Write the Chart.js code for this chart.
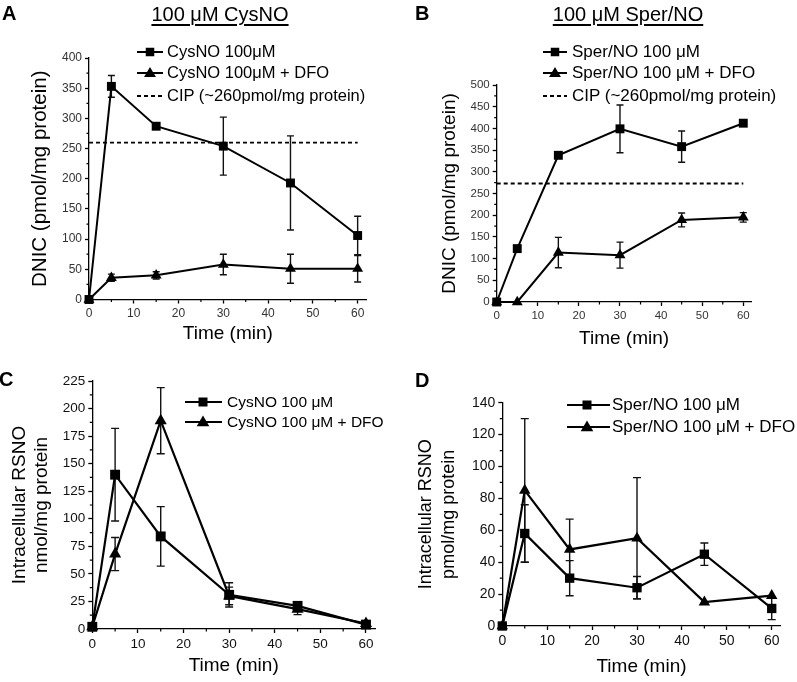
<!DOCTYPE html>
<html>
<head>
<meta charset="utf-8">
<script src="https://cdn.jsdelivr.net/npm/chart.js@4.4.1/dist/chart.umd.min.js"></script>
<style>
    body { margin: 0; background: #fff; }
    #fig {
        position: relative; width: 797px; height: 682px; overflow: hidden;
        font-family: "Liberation Sans", Arial, sans-serif; color: #000;
    }
    #fig canvas { position: absolute; left: 0; top: 0; }
    .lab { position: absolute; font-weight: bold; font-size: 20px; line-height: 1.2; z-index: 2; }
    .ttl {
        position: absolute; font-size: 20px; line-height: 1.2; white-space: nowrap;
        text-decoration: underline; text-decoration-thickness: 1.5px; text-underline-offset: 3px;
        transform: translateX(-50%); z-index: 2;
    }
    .legtxt { position: absolute; white-space: nowrap; line-height: 1.2; z-index: 2; }
    .legsym { position: absolute; z-index: 2; overflow: visible; }
</style>
</head>
<body>
<div id="fig">
    <canvas id="chartA" width="797" height="682"></canvas>
    <canvas id="chartB" width="797" height="682"></canvas>
    <canvas id="chartC" width="797" height="682"></canvas>
    <canvas id="chartD" width="797" height="682"></canvas>

    <div class="lab" style="left:2px; top:1px;">A</div>
    <div class="lab" style="left:415px; top:1px;">B</div>
    <div class="lab" style="left:-1px; top:367px;">C</div>
    <div class="lab" style="left:415px; top:368px;">D</div>

    <div class="ttl" style="left:220px; top:2px;">100 μM CysNO</div>
    <div class="ttl" style="left:628px; top:2px;">100 μM Sper/NO</div>
</div>

<script>
// sampling times (min), shared by every panel
const times = [0, 5, 15, 30, 45, 60];
const xTicks = [0, 10, 20, 30, 40, 50, 60];

// A: DNIC after 100 uM CysNO
const cysDnic = [0, 353, 287, 254, 193, 106];
const cysDnicErr = [0, 18, 5, 48, 78, 32];
const cysDfoDnic = [0, 36, 40, 58, 51, 51];
const cysDfoDnicErr = [0, 6, 6, 17, 24, 22];
const cipA = 260;

// B: DNIC after 100 uM Sper/NO
const sperDnic = [0, 123, 338, 399, 358, 412];
const sperDnicErr = [0, 0, 0, 55, 36, 5];
const sperDfoDnic = [0, 0, 114, 108, 189, 195];
const sperDfoDnicErr = [0, 0, 35, 30, 16, 11];
const cipB = 273;
const cipSpan = [0, 60];

// C: intracellular RSNO after CysNO
const cysRsno = [2, 140, 84, 31, 21, 4];
const cysRsnoErr = [0, 42, 27, 11, 2, 0];
const cysDfoRsno = [2, 68, 189, 30, 18, 5];
const cysDfoRsnoErr = [0, 15, 30, 8, 5, 0];

// D: intracellular RSNO after Sper/NO
const sperRsno = [0, 58, 30, 24, 45, 11];
const sperRsnoErr = [0, 18, 11, 7, 7, 7];
const sperDfoRsno = [0, 85, 48, 55, 15, 19];
const sperDfoRsnoErr = [0, 45, 19, 38, 0, 0];

const FONT = '"Liberation Sans", Arial, sans-serif';

function pts(ys) {
    return times.map((t, i) => ({ x: t, y: ys[i] }));
}

/**
 * Error bars drawn under the markers, using the chart's own scales
 */
const errorBarPlugin = {
    id: 'errorBars',
    beforeDatasetsDraw(chart, args, opts) {
        const errs = opts.errors || [];
        const ctx = chart.ctx;
        const xs = chart.scales.x, ys = chart.scales.y;
        ctx.save();
        ctx.strokeStyle = opts.color || '#111';
        ctx.lineWidth = opts.width || 1.4;
        errs.forEach((err, di) => {
            if (!err) return;
            chart.data.datasets[di].data.forEach((p, i) => {
                if (!err[i]) return;
                const px = xs.getPixelForValue(p.x);
                const top = ys.getPixelForValue(p.y + err[i]);
                const bot = ys.getPixelForValue(p.y - err[i]);
                const c = opts.cap || 3.5;
                ctx.beginPath();
                ctx.moveTo(px, top); ctx.lineTo(px, bot);
                ctx.moveTo(px - c, top); ctx.lineTo(px + c, top);
                ctx.moveTo(px - c, bot); ctx.lineTo(px + c, bot);
                ctx.stroke();
            });
        });
        ctx.restore();
    }
};

/**
 * Short minor ticks between the labelled ones (Origin style)
 */
const minorTickPlugin = {
    id: 'minorTicks',
    afterDraw(chart, args, opts) {
        const ctx = chart.ctx;
        const xs = chart.scales.x, ys = chart.scales.y;
        ctx.save();
        ctx.strokeStyle = '#000';
        ctx.lineWidth = 1.2;
        ctx.beginPath();
        for (let v = opts.xStep / 2; v < xs.max; v += opts.xStep) {
            const px = xs.getPixelForValue(v);
            ctx.moveTo(px, ys.bottom); ctx.lineTo(px, ys.bottom + 2.5);
        }
        for (let v = opts.yStep / 2; v < ys.max; v += opts.yStep) {
            const py = ys.getPixelForValue(v);
            ctx.moveTo(xs.left, py); ctx.lineTo(xs.left - 2.5, py);
        }
        ctx.stroke();
        ctx.restore();
    }
};

function lineSet(data, style, radius, width) {
    return {
        data: data,
        borderColor: '#000',
        backgroundColor: '#000',
        borderWidth: width,
        pointStyle: style,
        pointRadius: radius,
        pointBorderWidth: 0,
        pointBackgroundColor: '#000',
        clip: false,
        tension: 0
    };
}

function makePanel(id, p) {
    const g = p.geom;
    const yLeft = g.yTitleX - g.yTitleLH / 2;
    const xBottom = g.xTitleY + g.xTitleSize * 0.6;

    const datasets = [
        lineSet(pts(p.square), 'rect', p.radius, p.lineWidth),
        lineSet(pts(p.triangle), 'triangle', p.radius, p.lineWidth)
    ];
    if (p.cip !== undefined) {
        datasets.push({
            data: cipSpan.map(x => ({ x: x, y: p.cip })),
            borderColor: '#000',
            borderWidth: 1.8,
            borderDash: [4, 3],
            pointRadius: 0,
            clip: false
        });
    }

    return new Chart(document.getElementById(id), {
        type: 'line',
        data: { datasets },
        options: {
            responsive: false,
            animation: false,
            events: [],
            layout: {
                padding: {
                    left: yLeft,
                    top: g.top,
                    right: 797 - g.right,
                    bottom: 682 - xBottom
                }
            },
            scales: {
                x: {
                    type: 'linear',
                    min: 0,
                    max: 62,
                    afterFit: s => { s.height = xBottom - g.bottom; },
                    afterBuildTicks: s => { s.ticks = xTicks.map(v => ({ value: v })); },
                    border: { color: '#000', width: 1.3 },
                    grid: { drawOnChartArea: false, tickLength: 4, tickColor: '#000', tickWidth: 1.3 },
                    ticks: {
                        padding: 3, color: p.tickColor, maxRotation: 0, autoSkip: false,
                        font: { family: FONT, size: p.tickSize }
                    },
                    title: {
                        display: true, text: 'Time (min)', color: '#000', padding: 0,
                        font: { family: FONT, size: g.xTitleSize, lineHeight: 1.2 }
                    }
                },
                y: {
                    type: 'linear',
                    min: 0,
                    max: p.yMax,
                    afterFit: s => { s.width = g.left - yLeft; },
                    border: { color: '#000', width: 1.3 },
                    grid: { drawOnChartArea: false, tickLength: 4, tickColor: '#000', tickWidth: 1.3 },
                    ticks: {
                        stepSize: p.yStep, padding: 3, color: p.tickColor,
                        font: { family: FONT, size: p.tickSize }
                    },
                    title: {
                        display: true, text: p.yTitle, color: '#000', padding: 0,
                        font: { family: FONT, size: g.yTitleSize, lineHeight: g.yTitleLH / g.yTitleSize }
                    }
                }
            },
            plugins: {
                legend: { display: false },
                tooltip: { enabled: false },
                errorBars: { errors: [p.squareErr, p.triangleErr], cap: p.cap, width: 1.4 },
                minorTicks: { xStep: 10, yStep: p.yStep }
            }
        },
        plugins: [errorBarPlugin, minorTickPlugin]
    });
}

/**
 * Legend: line + marker drawn as svg, label as html text
 */
function addLegend(lg, rows) {
    const NS = 'http://www.w3.org/2000/svg';
    const fig = document.getElementById('fig');
    rows.forEach(r => {
        const w = lg.x1 - lg.x0;
        const svg = document.createElementNS(NS, 'svg');
        svg.setAttribute('class', 'legsym');
        svg.setAttribute('width', w + 8);
        svg.setAttribute('height', 16);
        svg.style.left = (lg.x0 - 4) + 'px';
        svg.style.top = (r.y - 8) + 'px';

        const line = document.createElementNS(NS, 'line');
        line.setAttribute('x1', 4); line.setAttribute('x2', w + 4);
        line.setAttribute('y1', 8); line.setAttribute('y2', 8);
        line.setAttribute('stroke', '#000');
        line.setAttribute('stroke-width', r.marker ? 2 : 1.8);
        if (!r.marker) line.setAttribute('stroke-dasharray', '4 3');
        svg.appendChild(line);

        const mx = lg.xm - lg.x0 + 4;
        if (r.marker === 'square') {
            const s = lg.size;
            const rect = document.createElementNS(NS, 'rect');
            rect.setAttribute('x', mx - s / 2); rect.setAttribute('y', 8 - s / 2);
            rect.setAttribute('width', s); rect.setAttribute('height', s);
            svg.appendChild(rect);
        } else if (r.marker === 'triangle') {
            const h = lg.size * 1.2, hw = lg.size * 0.7;
            const tri = document.createElementNS(NS, 'polygon');
            tri.setAttribute('points',
                `${mx},${8 - h * 0.6} ${mx + hw},${8 + h * 0.4} ${mx - hw},${8 + h * 0.4}`);
            svg.appendChild(tri);
        }
        fig.appendChild(svg);

        const t = document.createElement('div');
        t.className = 'legtxt';
        t.textContent = r.label;
        t.style.fontSize = lg.font + 'px';
        t.style.left = lg.tx + 'px';
        t.style.top = (r.y - lg.font * 0.6) + 'px';
        fig.appendChild(t);
    });
}

makePanel('chartA', {
    square: cysDnic, squareErr: cysDnicErr,
    triangle: cysDfoDnic, triangleErr: cysDfoDnicErr,
    cip: cipA, yMax: 400, yStep: 50,
    yTitle: 'DNIC (pmol/mg protein)',
    radius: 6.3, lineWidth: 2, cap: 3.5, tickSize: 12, tickColor: '#333',
    geom: { left: 89, right: 366.6, top: 58, bottom: 299.5,
            yTitleX: 40, yTitleSize: 20.5, yTitleLH: 24, xTitleY: 334, xTitleSize: 19 }
});

makePanel('chartB', {
    square: sperDnic, squareErr: sperDnicErr,
    triangle: sperDfoDnic, triangleErr: sperDfoDnicErr,
    cip: cipB, yMax: 500, yStep: 50,
    yTitle: 'DNIC (pmol/mg protein)',
    radius: 6.3, lineWidth: 2, cap: 3.5, tickSize: 11.5, tickColor: '#333',
    geom: { left: 496.7, right: 751.5, top: 85, bottom: 302,
            yTitleX: 450, yTitleSize: 19, yTitleLH: 22.8, xTitleY: 339, xTitleSize: 19 }
});

makePanel('chartC', {
    square: cysRsno, squareErr: cysRsnoErr,
    triangle: cysDfoRsno, triangleErr: cysDfoRsnoErr,
    yMax: 225, yStep: 25,
    yTitle: ['Intracellular RSNO', 'nmol/mg protein'],
    radius: 7, lineWidth: 2.2, cap: 4, tickSize: 13.5, tickColor: '#111',
    geom: { left: 92.3, right: 375.1, top: 381, bottom: 629,
            yTitleX: 20, yTitleSize: 19, yTitleLH: 21.8, xTitleY: 666, xTitleSize: 19 }
});

makePanel('chartD', {
    square: sperRsno, squareErr: sperRsnoErr,
    triangle: sperDfoRsno, triangleErr: sperDfoRsnoErr,
    yMax: 140, yStep: 20,
    yTitle: ['Intracellular RSNO', 'pmol/mg protein'],
    radius: 6.6, lineWidth: 2.2, cap: 4, tickSize: 14, tickColor: '#111',
    geom: { left: 502.3, right: 780.7, top: 402.7, bottom: 626,
            yTitleX: 426, yTitleSize: 18, yTitleLH: 23, xTitleY: 667, xTitleSize: 19 }
});

addLegend({ x0: 137, x1: 163, xm: 150, tx: 167, font: 16.5, size: 8.5 }, [
    { y: 52, marker: 'square', label: 'CysNO 100μM' },
    { y: 73, marker: 'triangle', label: 'CysNO 100μM + DFO' },
    { y: 96, marker: null, label: 'CIP (~260pmol/mg protein)' }
]);
addLegend({ x0: 543, x1: 567, xm: 555, tx: 572, font: 17, size: 8.5 }, [
    { y: 52, marker: 'square', label: 'Sper/NO 100 μM' },
    { y: 73, marker: 'triangle', label: 'Sper/NO 100 μM + DFO' },
    { y: 96, marker: null, label: 'CIP (~260pmol/mg protein)' }
]);
addLegend({ x0: 185, x1: 222, xm: 203, tx: 227, font: 15.5, size: 9 }, [
    { y: 402, marker: 'square', label: 'CysNO 100 μM' },
    { y: 422, marker: 'triangle', label: 'CysNO 100 μM + DFO' }
]);
addLegend({ x0: 567, x1: 610, xm: 587, tx: 612, font: 17, size: 9 }, [
    { y: 405, marker: 'square', label: 'Sper/NO 100 μM' },
    { y: 427, marker: 'triangle', label: 'Sper/NO 100 μM + DFO' }
]);
</script>
</body>
</html>
